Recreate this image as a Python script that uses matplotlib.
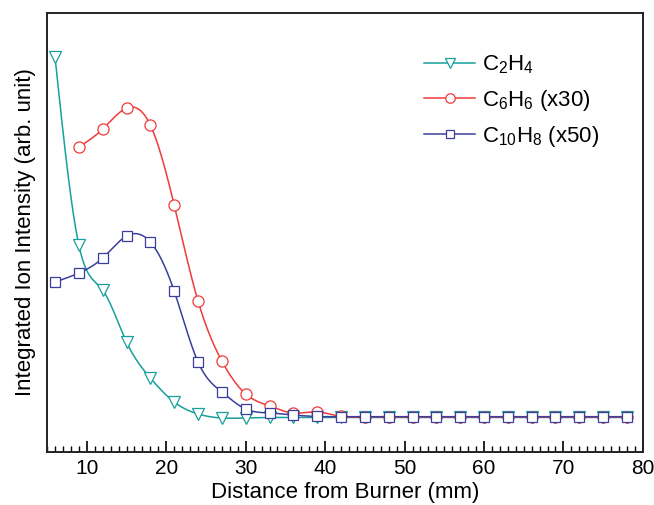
import matplotlib
matplotlib.use('Agg')
import matplotlib.pyplot as plt
import numpy as np
from matplotlib.ticker import MultipleLocator

plt.rcParams['font.family'] = ['Liberation Sans', 'DejaVu Sans']
plt.rcParams['mathtext.fontset'] = 'custom'
plt.rcParams['mathtext.rm'] = 'Liberation Sans'
plt.rcParams['mathtext.it'] = 'Liberation Sans'

# distance from burner (mm)
x_c2h4 = np.arange(6, 79, 3)
x_c6h6 = np.arange(9, 79, 3)
x_c10h8 = np.arange(6, 79, 3)

# intensities (arb. unit)
y_c2h4 = [395, 207, 162, 110, 74, 50, 38, 34, 34, 34.5, 34.5, 34.5, 34.5, 34.5, 34.5,
          34.5, 34.5, 34.5, 34.5, 34.5, 34.5, 34.5, 34.5, 34.5, 34.5]
y_c6h6 = [305, 323, 344, 327, 247, 151, 91, 58, 46, 39, 40, 35.5, 35, 35, 35, 35,
          35, 35, 35, 35, 35, 35, 35, 35]
y_c10h8 = [170, 179, 194, 216, 210, 161, 90, 60, 43, 39, 37, 35.5, 35.3, 35.3, 35.3,
           35.3, 35.3, 35.3, 35.3, 35.3, 35.3, 35.3, 35.3, 35.3, 35.3]

labels = [r'C$_\mathrm{2}$H$_\mathrm{4}$', r'C$_\mathrm{6}$H$_\mathrm{6}$ (x30)',
          r'C$_\mathrm{10}$H$_\mathrm{8}$ (x50)']
colors = ['#16a09b', '#f03a3a', '#3b3f9c']
markers = ['v', 'o', 's']


def smooth(x, y, n=500):
    # natural cubic spline through the points, for drawing the line only
    x = np.asarray(x, float)
    y = np.asarray(y, float)
    h = np.diff(x)
    m = len(x)
    A = np.zeros((m, m))
    b = np.zeros(m)
    A[0, 0] = A[-1, -1] = 1
    for i in range(1, m - 1):
        A[i, i - 1] = h[i - 1]
        A[i, i] = 2 * (h[i - 1] + h[i])
        A[i, i + 1] = h[i]
        b[i] = 6 * ((y[i + 1] - y[i]) / h[i] - (y[i] - y[i - 1]) / h[i - 1])
    M = np.linalg.solve(A, b)
    xs = np.linspace(x[0], x[-1], n)
    k = np.clip(np.searchsorted(x, xs) - 1, 0, m - 2)
    t0 = x[k + 1] - xs
    t1 = xs - x[k]
    hk = h[k]
    ys = (M[k] * t0 ** 3 + M[k + 1] * t1 ** 3) / (6 * hk) \
        + (y[k] / hk - M[k] * hk / 6) * t0 + (y[k + 1] / hk - M[k + 1] * hk / 6) * t1
    return xs, ys


fig = plt.figure(figsize=(6.54, 5.05), dpi=100)
ax = fig.add_axes([0.072, 0.105, 0.911, 0.869])

sizes = [9, 8, 7.5]
for xd, yd, lab, c, mk, ms in zip([x_c2h4, x_c6h6, x_c10h8], [y_c2h4, y_c6h6, y_c10h8],
                                  labels, colors, markers, sizes):
    xs, ys = smooth(xd, yd)
    ax.plot(xs, ys, color=c, lw=1.1)
    ax.plot(xd, yd, ls='none', marker=mk, ms=ms, mfc='white', mec=c, mew=0.9)
    # legend proxy
    ax.plot([], [], color=c, lw=1.1, marker=mk, ms=ms * 0.85, mfc='white', mec=c,
            mew=0.9, label=lab)

ax.set_xlim(5, 80)
ax.set_ylim(0, 439)
ax.set_yticks([])
ax.xaxis.set_major_locator(MultipleLocator(10))
ax.xaxis.set_minor_locator(MultipleLocator(1))
ax.tick_params(axis='x', which='major', direction='in', length=8, width=1.2,
               labelsize=15, pad=5, top=False)
ax.tick_params(axis='x', which='minor', direction='in', length=4, width=1, top=False)
for s in ax.spines.values():
    s.set_linewidth(1.4)
    s.set_color('#222222')

ax.set_xlabel('Distance from Burner (mm)', fontsize=16, labelpad=3)
ax.set_ylabel('Integrated Ion Intensity (arb. unit)', fontsize=16, labelpad=8)

h, l = ax.get_legend_handles_labels()
ax.legend(h, l, loc='upper left', bbox_to_anchor=(0.633, 0.908), frameon=False,
          fontsize=16, handlelength=2.3, handletextpad=0.3, labelspacing=0.52,
          borderpad=0, borderaxespad=0)

fig.savefig('out.png', dpi=100)
